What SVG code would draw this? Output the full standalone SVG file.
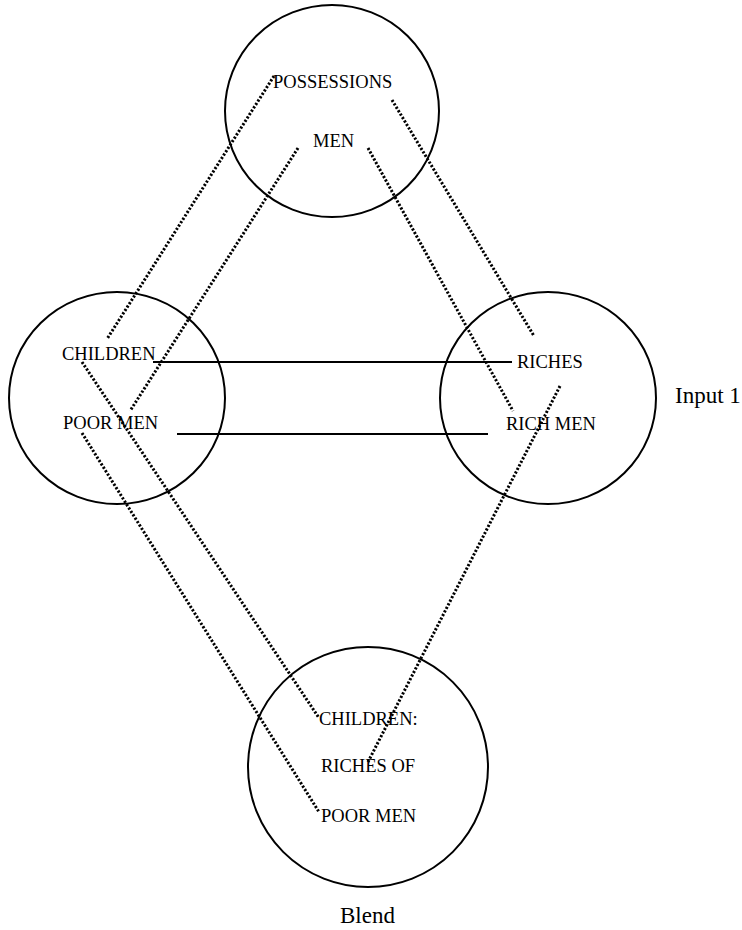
<svg xmlns="http://www.w3.org/2000/svg" width="742" height="930" viewBox="0 0 742 930">
<style>
.c{fill:none;stroke:#000;stroke-width:2}
.t{font-family:"Liberation Serif","Times New Roman",serif;font-size:18.5px;fill:#000}
.big{font-size:23px}
.s{stroke:#000;stroke-width:1.8;fill:none}
.d{stroke:#000;stroke-width:3;stroke-dasharray:2.2 1.8;fill:none}
</style>
<rect width="742" height="930" fill="#fff"/>
<g id="generic">
<ellipse class="c" cx="332" cy="111" rx="107" ry="106"/>
<text class="t" x="273" y="88">POSSESSIONS</text>
<text class="t" x="313" y="147">MEN</text>
</g>
<g id="input2">
<ellipse class="c" cx="117" cy="398" rx="108" ry="106"/>
<text class="t" x="62" y="360">CHILDREN</text>
<text class="t" x="63" y="429">POOR MEN</text>
</g>
<g id="input1">
<ellipse class="c" cx="548" cy="398" rx="108" ry="106"/>
<text class="t" x="517" y="368">RICHES</text>
<text class="t" x="506" y="430">RICH MEN</text>
<text class="t big" x="675" y="403">Input 1</text>
</g>
<g id="blend">
<ellipse class="c" cx="368" cy="767" rx="120" ry="120"/>
<text class="t" x="319" y="725">CHILDREN:</text>
<text class="t" x="321" y="772">RICHES OF</text>
<text class="t" x="321" y="822">POOR MEN</text>
<text class="t big" x="340" y="923">Blend</text>
</g>
<g id="connectors">
<line class="s" x1="153" y1="362" x2="512" y2="362"/>
<line class="s" x1="177" y1="434" x2="488" y2="434"/>
<line class="d" x1="274" y1="76" x2="107" y2="339"/>
<line class="d" x1="298" y1="148" x2="130" y2="411"/>
<line class="d" x1="368" y1="148" x2="513" y2="411"/>
<line class="d" x1="392" y1="100" x2="534" y2="336"/>
<line class="d" x1="82" y1="362" x2="319" y2="718"/>
<line class="d" x1="82" y1="433" x2="319" y2="812"/>
<line class="d" x1="560" y1="386" x2="368" y2="762"/>
</g>
</svg>
